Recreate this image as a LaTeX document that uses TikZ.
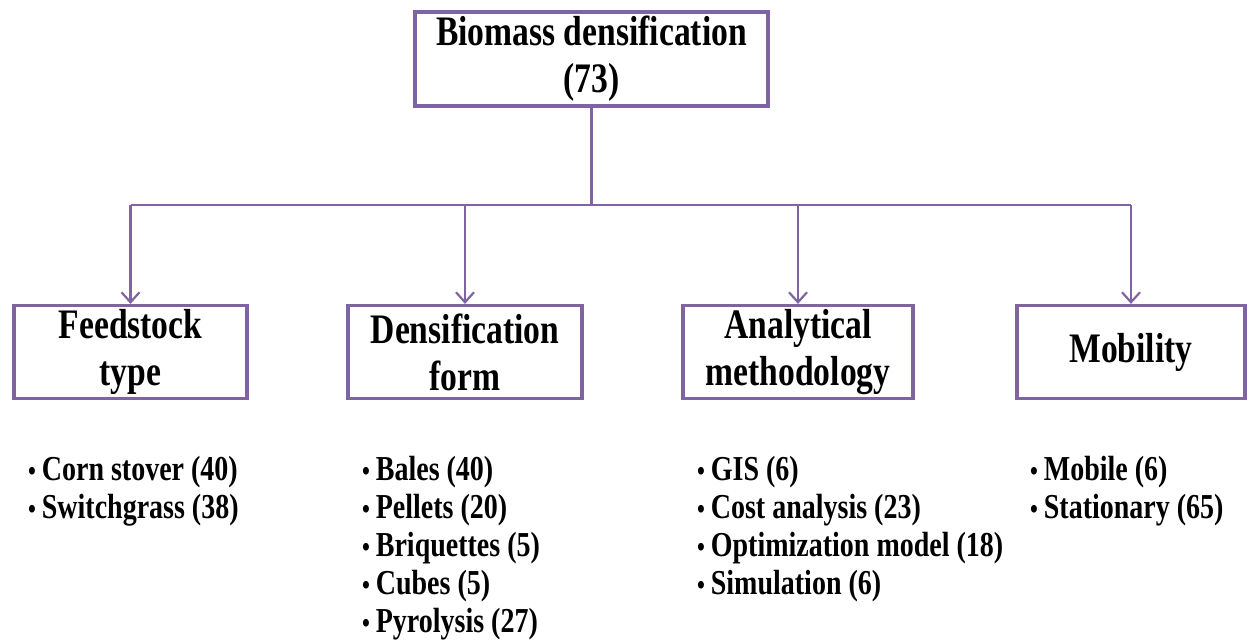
\documentclass[tikz,border=0pt]{standalone}
\usepackage{fontspec}
\setmainfont{Liberation Serif}[FakeStretch=0.8]
\usetikzlibrary{arrows.meta}
\definecolor{boxpurple}{RGB}{128,100,162}
\newcommand{\bul}{{\fontsize{28}{28}\selectfont\textbullet}\,}

\begin{document}
\begin{tikzpicture}[x=1pt, y=-1pt,
    box/.style = {draw=boxpurple, line width=3.2pt, align=center, inner sep=0pt, minimum height=93pt, font=\fontsize{42}{47}\selectfont\bfseries},
    list/.style = {align=left, anchor=north west, inner sep=0pt, font=\fontsize{35}{38}\selectfont\bfseries},
    link/.style = {draw=boxpurple, line width=2.2pt},
    arr/.style = {link, -{Straight Barb[length=10pt, width=18pt, line width=2.2pt]}}]
    \useasboundingbox (0,0) rectangle (1248,642);

    \node[box, minimum width=353pt, minimum height=94pt] (biomass) at (591.5, 59) {Biomass densification\\(73)};

    \def\rowy{352}
    \node[box, minimum width=233pt] (feedstock) at (130.5, \rowy) {Feedstock\\type};
    \node[box, minimum width=234pt] (densform) at (465, \rowy) {Densification\\form};
    \node[box, minimum width=230pt] (analytical) at (798, \rowy) {Analytical\\methodology};
    \node[box, minimum width=228pt] (mobility) at (1131, \rowy) {Mobility};

    \coordinate (hub) at (591.5, 205);
    \draw[link] (biomass) -- (hub);
    \draw[link] (feedstock |- hub) -- (mobility |- hub);
    \foreach \n in {feedstock, densform, analytical, mobility}
        \draw[arr] (\n |- hub) -- (\n);

    \def\listy{456}
    \node[list] (feedlist) at (28, \listy) {\bul Corn stover (40)\\\bul Switchgrass (38)};
    \node[list] (formlist) at (362, \listy) {\bul Bales (40)\\\bul Pellets (20)\\\bul Briquettes (5)\\\bul Cubes (5)\\\bul Pyrolysis (27)};
    \node[list] (methodlist) at (697, \listy) {\bul GIS (6)\\\bul Cost analysis (23)\\\bul Optimization model (18)\\\bul Simulation (6)};
    \node[list] (mobilelist) at (1030, \listy) {\bul Mobile (6)\\\bul Stationary (65)};
\end{tikzpicture}
\end{document}
